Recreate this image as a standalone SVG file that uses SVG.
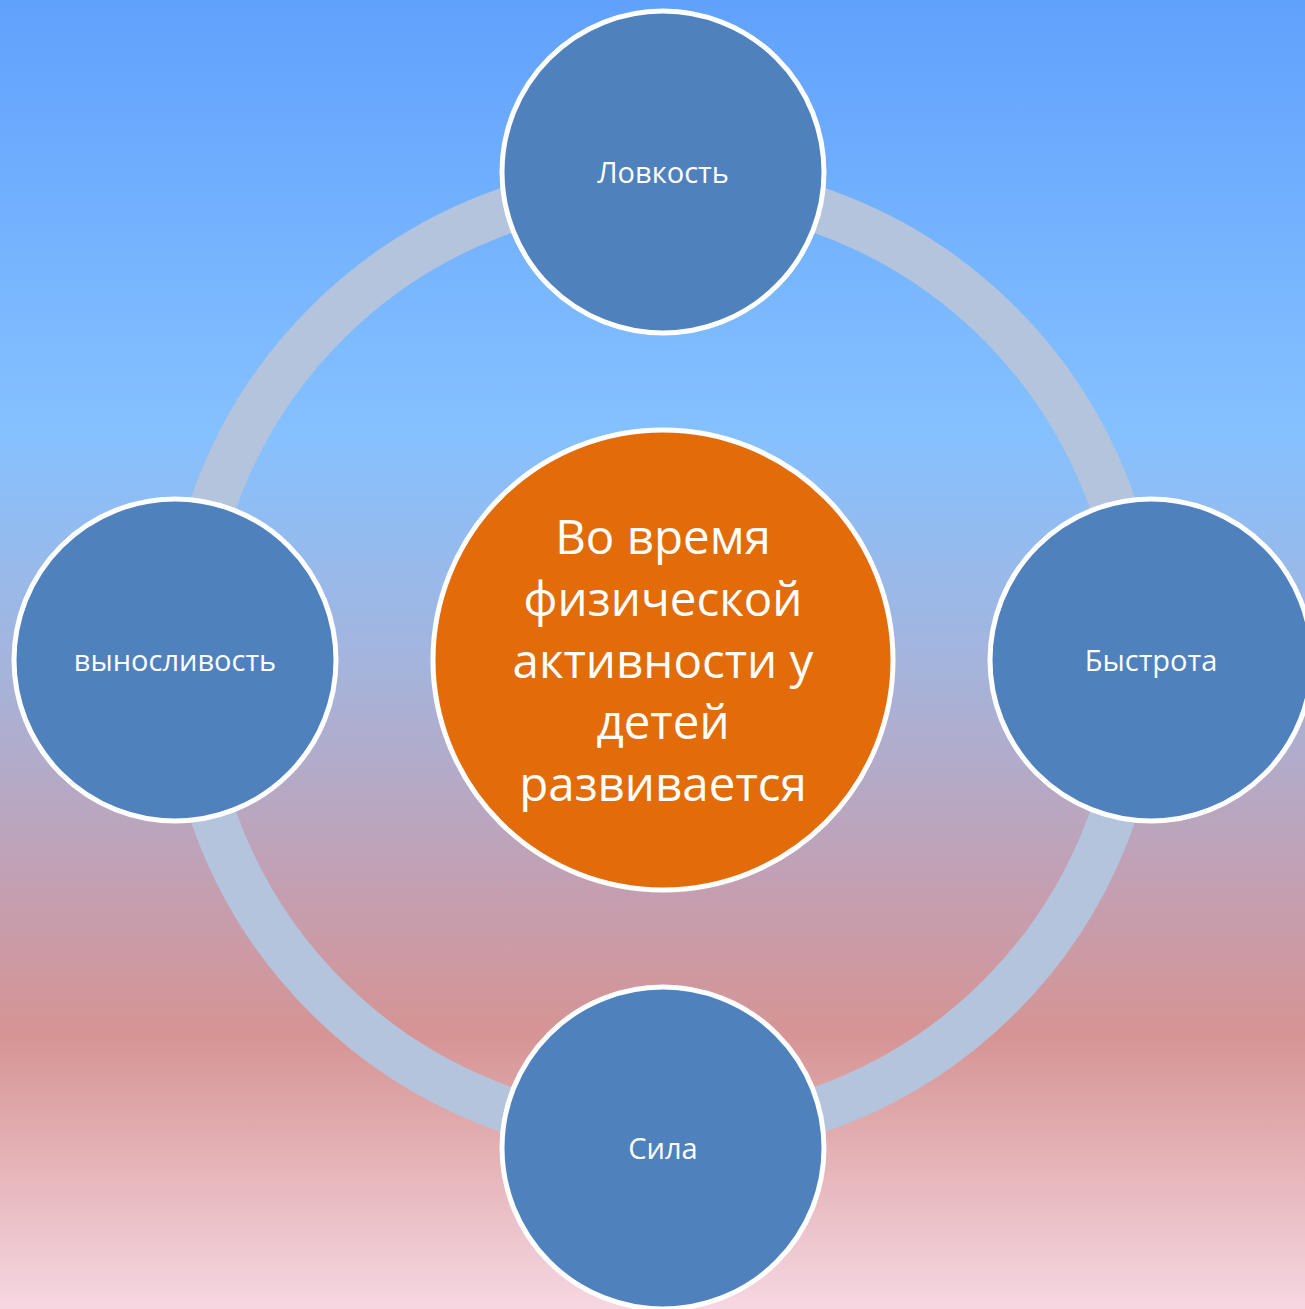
<svg xmlns="http://www.w3.org/2000/svg" width="1305" height="1309" viewBox="0 0 1305 1309">
<defs>
<linearGradient id="bg" x1="0" y1="0" x2="0" y2="1">
<stop offset="0" stop-color="#60A1FD"/>
<stop offset="0.33" stop-color="#85C1FF"/>
<stop offset="0.5" stop-color="#A3B5DE"/>
<stop offset="0.68" stop-color="#C49FB1"/>
<stop offset="0.79" stop-color="#D69494"/>
<stop offset="1" stop-color="#F6D7E1"/>
</linearGradient>
<style>
.sat{fill:#4F81BD;stroke:#FFFFFF;stroke-width:5}
.hub{fill:#E36C0A;stroke:#FFFFFF;stroke-width:5}
.lbl{font-family:"Open Sans","Noto Sans",sans-serif;font-size:29px;fill:#FFFFFF;text-anchor:middle}
.big{font-family:"Open Sans","Noto Sans",sans-serif;font-size:47.5px;fill:#FFFFFF;text-anchor:middle}
</style>
</defs>
<rect x="0" y="0" width="1305" height="1309" fill="url(#bg)"/>
<g id="connectors">
<circle cx="663" cy="660" r="476" fill="none" stroke="#B4C4DC" stroke-width="46"/>
</g>
<g id="hub">
<circle class="hub" cx="663" cy="660" r="230"/>
<text class="big" x="663" y="554">Во время</text>
<text class="big" x="663" y="616">физической</text>
<text class="big" x="663" y="678">активности у</text>
<text class="big" x="663" y="739">детей</text>
<text class="big" x="663" y="801">развивается</text>
</g>
<g id="node-top">
<circle class="sat" cx="663" cy="172" r="161"/>
<text class="lbl" x="663" y="183">Ловкость</text>
</g>
<g id="node-right">
<circle class="sat" cx="1151" cy="660" r="161"/>
<text class="lbl" x="1151" y="671">Быстрота</text>
</g>
<g id="node-bottom">
<circle class="sat" cx="663" cy="1148" r="161"/>
<text class="lbl" x="663" y="1159">Сила</text>
</g>
<g id="node-left">
<circle class="sat" cx="175" cy="660" r="161"/>
<text class="lbl" x="175" y="671">выносливость</text>
</g>
</svg>
